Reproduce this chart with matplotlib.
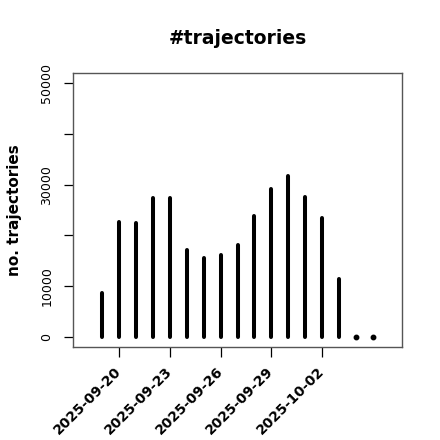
import numpy as np
import matplotlib
matplotlib.use("Agg")
import matplotlib.pyplot as plt
import matplotlib.dates as mdates
from datetime import date, timedelta

dates = [date(2025, 9, 19) + timedelta(days=i) for i in range(17)]
counts = [8600, 22700, 22500, 27400, 27300, 17200, 15450, 16100, 18050,
          23900, 29200, 31750, 27600, 23350, 11500, 0, 0]
xtick_dates = [date(2025, 9, 20), date(2025, 9, 23), date(2025, 9, 26),
               date(2025, 9, 29), date(2025, 10, 2)]
yticks = [0, 10000, 20000, 30000, 40000, 50000]
ytick_labels = ["0", "10000", "", "30000", "", "50000"]

fig = plt.figure(figsize=(4.4, 4.4), dpi=100)
W = H = 440
ax = fig.add_axes([73 / W, 1 - 347 / H, (402 - 73) / W, (347 - 73) / H])

ax.vlines(dates, 0, counts, colors="black", linewidth=2.9, capstyle="round")
# zero-height entries drawn as dots
for d, c in zip(dates, counts):
    if c == 0:
        ax.plot([d], [0], marker="o", markersize=3.2, color="black")

ax.set_xlim(mdates.date2num(dates[0]) - 1.72, mdates.date2num(dates[-1]) + 1.72)
ax.set_ylim(-2000, 52000)

ax.set_xticks(mdates.date2num(xtick_dates))
ax.set_xticklabels([d.strftime("%Y-%m-%d") for d in xtick_dates],
                   rotation=45, ha="right", va="center", rotation_mode="anchor",
                   fontsize=10, fontweight="bold")
ax.set_yticks(yticks)
ax.set_yticklabels(ytick_labels, rotation=90, va="center", fontsize=9)

ax.tick_params(axis="x", length=7.2, width=0.9, pad=8.5, color="black")
ax.tick_params(axis="y", length=6.2, width=0.9, pad=8, color="black")
for s in ax.spines.values():
    s.set_color("#555555")
    s.set_linewidth(1.0)

fig.text(238 / W, 1 - 38 / H, "#trajectories", ha="center", va="center",
         fontsize=13.5, fontweight="bold")
fig.text(14.5 / W, 1 - 210 / H, "no. trajectories", ha="center", va="center",
         rotation=90, fontsize=11, fontweight="bold")

fig.savefig("out.png", dpi=100)
